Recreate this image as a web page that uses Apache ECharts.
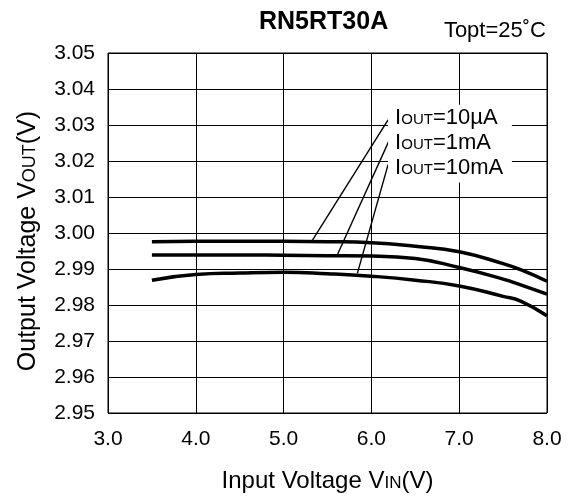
<!DOCTYPE html>
<html>
<head>
<meta charset="utf-8">
<script src="https://cdn.jsdelivr.net/npm/echarts@6/dist/echarts.min.js"></script>
<style>
html,body{margin:0;padding:0;background:#fff;}
#chart{width:573px;height:498px;}
</style>
</head>
<body>
<div id="chart"></div>
<script>
// ---- data ----
const vin = [3.5, 4.0, 4.5, 5.0, 5.5, 6.0, 6.5, 7.0, 7.5, 7.7, 8.0];
const vout10uA = [2.9976, 2.9977, 2.9977, 2.9977, 2.9976, 2.9973, 2.9963, 2.9948, 2.9915, 2.9898, 2.9866];
const vout1mA  = [2.9939, 2.9939, 2.9939, 2.9938, 2.9937, 2.9936, 2.9929, 2.9904, 2.9872, 2.9856, 2.9830];
const vout10mA = [2.9869, 2.9885, 2.9889, 2.9891, 2.9887, 2.9880, 2.9869, 2.9853, 2.9824, 2.9811, 2.9770];
const seriesNames = ['IOUT=10µA', 'IOUT=1mA', 'IOUT=10mA'];
const labelTexts = ['=10µA', '=1mA', '=10mA'];
// leader lines: [curve point, label point]
const leader10uA = [[5.32, 2.9977], [6.19, 3.0314]];
const leader1mA  = [[5.61, 2.9938], [6.20, 3.0256]];
const leader10mA = [[5.84, 2.9888], [6.19, 3.0190]];
const xTicks = {min: 3, max: 8, interval: 1};
const yTicks = {min: 2.95, max: 3.05, interval: 0.01};

const FONT = '"Liberation Sans", Arial, Helvetica, sans-serif';
const pair = (xs, ys) => xs.map((x, i) => [x, ys[i]]);

const chart = echarts.init(document.getElementById('chart'), null, {renderer: 'canvas'});

const curveStyle = {color: '#000', width: 3.5, cap: 'butt', join: 'round'};
function curve(name, ys) {
  return {
    name, type: 'line', data: pair(vin, ys), showSymbol: false, symbol: 'none',
    smooth: 0.5, lineStyle: curveStyle, silent: true, z: 3
  };
}
function leader(name, pts) {
  return {
    name, type: 'line', data: pts, showSymbol: false, symbol: 'none',
    lineStyle: {color: '#000', width: 1.4}, silent: true, z: 2
  };
}

const option = {
  animation: false,
  backgroundColor: '#fff',
  title: [
    {text: 'RN5RT30A', left: 259, top: 9.5, padding: 0,
     textStyle: {fontSize: 25, fontWeight: 'bold', color: '#000', fontFamily: FONT}},
    {text: 'Topt=25˚C', right: 27, top: 19.5, padding: 0,
     textStyle: {fontSize: 22, fontWeight: 'normal', color: '#000', fontFamily: FONT}}
  ],
  grid: {left: 108, right: 26, top: 53, bottom: 84, show: true, borderColor: '#000', borderWidth: 1, backgroundColor: 'transparent'},
  xAxis: {
    type: 'value', min: xTicks.min, max: xTicks.max, interval: xTicks.interval,
    axisLine: {show: false}, axisTick: {show: false},
    splitLine: {show: true, lineStyle: {color: '#000', width: 1}},
    axisLabel: {fontSize: 21, color: '#000', fontFamily: FONT, margin: 16, formatter: v => v.toFixed(1)},
    name: '{n|Input Voltage V}{s|IN}{n|(V)}', nameLocation: 'middle', nameGap: 56,
    nameTextStyle: {fontFamily: FONT, color: '#000', fontSize: 24,
      rich: {n: {fontSize: 24, fontFamily: FONT, color: '#000', verticalAlign: 'bottom'},
             s: {fontSize: 17, fontFamily: FONT, color: '#000', verticalAlign: 'bottom', padding: [0, 0, 1.5, 0]}}}
  },
  yAxis: {
    type: 'value', min: yTicks.min, max: yTicks.max, interval: yTicks.interval,
    axisLine: {show: false}, axisTick: {show: false},
    splitLine: {show: true, lineStyle: {color: '#000', width: 1}},
    axisLabel: {fontSize: 21, color: '#000', fontFamily: FONT, margin: 13, formatter: v => v.toFixed(2)},
    name: '{n|Output Voltage V}{s|OUT}{n|(V)}', nameLocation: 'middle', nameGap: 67,
    nameTextStyle: {fontFamily: FONT, color: '#000', fontSize: 25, padding: [0, 16, 0, 0],
      rich: {n: {fontSize: 25, fontFamily: FONT, color: '#000', verticalAlign: 'bottom'},
             s: {fontSize: 18, fontFamily: FONT, color: '#000', verticalAlign: 'bottom', padding: [0, 0, 1.5, 0]}}}
  },
  series: [
    curve(seriesNames[0], vout10uA),
    curve(seriesNames[1], vout1mA),
    curve(seriesNames[2], vout10mA),
    leader('leader 10µA', leader10uA),
    leader('leader 1mA', leader1mA),
    leader('leader 10mA', leader10mA)
  ]
};
chart.setOption(option);

// label box anchored in data coordinates
const labelBox = {x0: 6.19, x1: 7.60, yTop: 3.0356, yBottom: 3.0140};
const labelLeftX = 6.27;
const labelRowsY = [3.0320, 3.0251, 3.0181];

function placeLabels() {
  const tl = chart.convertToPixel({gridIndex: 0}, [labelBox.x0, labelBox.yTop]);
  const br = chart.convertToPixel({gridIndex: 0}, [labelBox.x1, labelBox.yBottom]);
  const els = [{
    type: 'rect', z: 10, silent: true,
    shape: {x: tl[0], y: tl[1], width: br[0] - tl[0], height: br[1] - tl[1]},
    style: {fill: '#fff'}
  }];
  labelRowsY.forEach((yv, i) => {
    const p = chart.convertToPixel({gridIndex: 0}, [labelLeftX, yv]);
    els.push({
      type: 'text', z: 11, silent: true, x: p[0], y: p[1],
      style: {
        text: '{b|I}{s|OUT}{b|' + labelTexts[i] + '}',
        align: 'left', verticalAlign: 'middle',
        rich: {
          b: {fontSize: 22, fontFamily: FONT, fill: '#000', verticalAlign: 'bottom'},
          s: {fontSize: 15, fontFamily: FONT, fill: '#000', verticalAlign: 'bottom', padding: [0, 0, 1.5, 0]}
        }
      }
    });
  });
  chart.setOption({graphic: els});
}
placeLabels();
</script>
</body>
</html>
